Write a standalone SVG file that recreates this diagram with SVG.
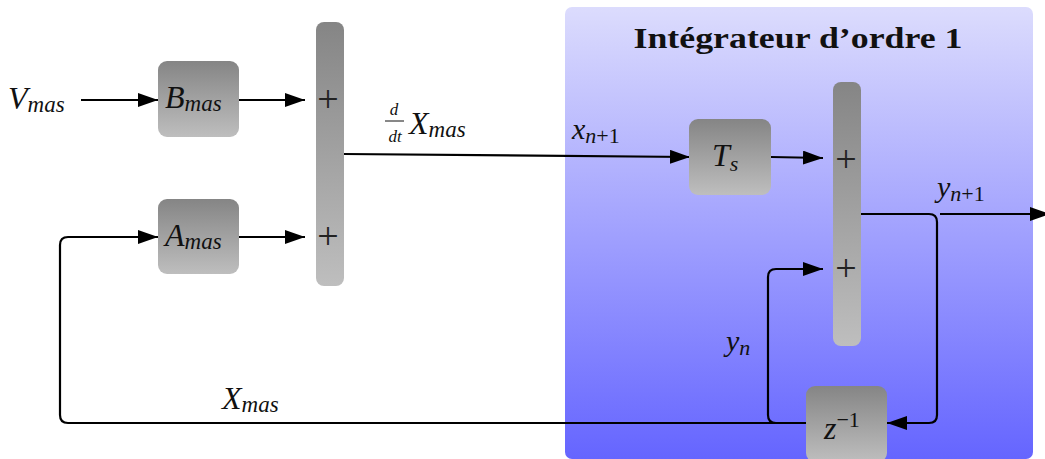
<svg xmlns="http://www.w3.org/2000/svg" width="1045" height="459" viewBox="0 0 1045 459">
<defs>
<linearGradient id="gbox" x1="0" y1="0" x2="0" y2="1"><stop offset="0" stop-color="#858585"/><stop offset="1" stop-color="#bebebe"/></linearGradient>
<linearGradient id="gint" x1="0" y1="0" x2="0" y2="1"><stop offset="0" stop-color="#dcdcfd"/><stop offset="1" stop-color="#6565ff"/></linearGradient>
<marker id="ah" markerUnits="userSpaceOnUse" markerWidth="22" markerHeight="16" refX="20" refY="7" orient="auto"><path d="M0,0 L20,7 L0,14 z" fill="#000"/></marker>
</defs>
<style>
.box{fill:url(#gbox)}
.ln{fill:none;stroke:#000;stroke-width:2.2}
.arr{marker-end:url(#ah)}
.m{font-family:"Liberation Serif",serif;font-style:italic;fill:#111}
.u{font-style:normal}
.op{font-family:"Liberation Serif",serif;fill:#222;font-size:38px}
</style>
<g id="integrateur">
<rect x="565" y="7" width="468" height="452" rx="7" fill="url(#gint)"/>
<text x="798" y="48" text-anchor="middle" font-family="Liberation Serif,serif" font-weight="bold" font-size="29" textLength="329" lengthAdjust="spacingAndGlyphs" fill="#111">Intégrateur d’ordre 1</text>
</g>
<g id="connectors">
<path class="ln arr" d="M81,100 H158"/>
<path class="ln arr" d="M239,100 H305"/>
<path class="ln arr" d="M239,237 H305"/>
<path class="ln arr" d="M806,423 H68 Q60,423 60,415 V245 Q60,237 68,237 H158"/>
<path class="ln arr" d="M344,154 L690,157"/>
<path class="ln arr" d="M771,157 L823,158"/>
<path class="ln arr" d="M861,214 H929 Q937,214 937,222 V415 Q937,423 929,423 H887"/>
<path class="ln arr" d="M940,214 H1050"/>
<path class="ln arr" d="M806,423 H776 Q768,423 768,415 V277 Q768,269 776,269 H823"/>
</g>
<g id="Vmas"><text class="m" x="8" y="109" font-size="32">V<tspan font-size="23" dy="3">mas</tspan></text></g>
<g id="Bmas">
<rect class="box" x="158" y="61" width="81" height="76" rx="9"/>
<text class="m" x="165" y="108" font-size="32" fill="#1a1a1a">B<tspan font-size="23" dy="3">mas</tspan></text>
</g>
<g id="Amas">
<rect class="box" x="158" y="199" width="81" height="75" rx="9"/>
<text class="m" x="165" y="246" font-size="32" fill="#1a1a1a">A<tspan font-size="23" dy="3">mas</tspan></text>
</g>
<g id="sum1">
<rect class="box" x="316" y="22" width="28" height="264" rx="8"/>
<text class="op" x="328" y="112" text-anchor="middle">+</text>
<text class="op" x="328" y="249" text-anchor="middle">+</text>
</g>
<g id="Ts">
<rect class="box" x="689" y="119" width="82" height="76" rx="9"/>
<text class="m" x="712" y="166" font-size="32" fill="#1a1a1a">T<tspan font-size="22" dy="5">s</tspan></text>
</g>
<g id="sum2">
<rect class="box" x="833" y="82" width="28" height="264" rx="8"/>
<text class="op" x="846" y="172" text-anchor="middle">+</text>
<text class="op" x="846" y="281" text-anchor="middle">+</text>
</g>
<g id="zinv">
<rect class="box" x="806" y="386" width="81" height="76" rx="9"/>
<text class="m" x="824" y="439" font-size="32" fill="#1a1a1a">z<tspan class="u" font-size="22" dy="-12">−1</tspan></text>
</g>
<g id="labels">
<text class="m" x="394" y="115" font-size="17" text-anchor="middle">d</text>
<line x1="385" y1="121" x2="404" y2="121" stroke="#111" stroke-width="1"/>
<text class="m" x="395" y="142" font-size="17" text-anchor="middle">dt</text>
<text class="m" x="409" y="134" font-size="32">X<tspan font-size="23" dy="3">mas</tspan></text>
<text class="m" x="572" y="139" font-size="30">x<tspan font-size="22" dy="4">n</tspan><tspan class="u" font-size="22">+1</tspan></text>
<text class="m" x="937" y="197" font-size="30">y<tspan font-size="22" dy="4">n</tspan><tspan class="u" font-size="22">+1</tspan></text>
<text class="m" x="726" y="351" font-size="30">y<tspan font-size="22" dy="4">n</tspan></text>
<text class="m" x="222" y="409" font-size="32">X<tspan font-size="23" dy="3">mas</tspan></text>
</g>
</svg>
